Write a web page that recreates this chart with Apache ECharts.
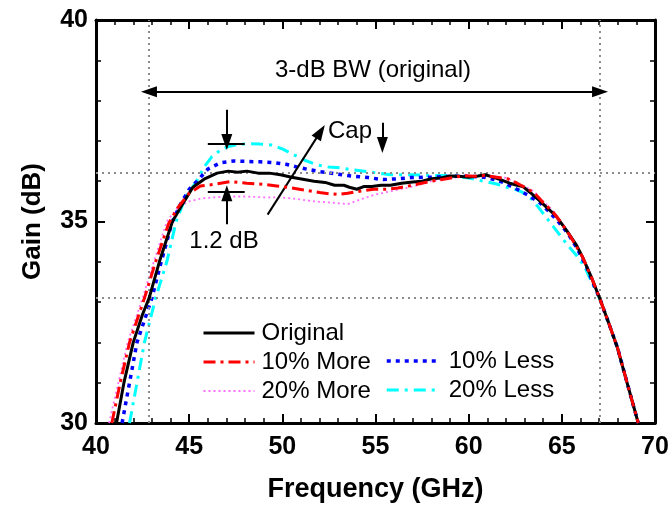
<!DOCTYPE html>
<html>
<head>
<meta charset="utf-8">
<script src="https://cdn.jsdelivr.net/npm/echarts@6/dist/echarts.min.js"></script>
<style>
html,body{margin:0;padding:0;background:#fff;}
#chart{width:672px;height:508px;}
</style>
</head>
<body>
<div id="chart"></div>
<script>
// ---- Data ----
var xTicks = [40, 45, 50, 55, 60, 65, 70];
var yTicks = [30, 35, 40];

var freqOriginal = [41.1,41.5,42.0,42.5,42.85,43.4,44.1,44.6,45.2,45.8,46.5,47.1,47.6,48.1,48.7,49.3,49.9,50.5,51.1,51.7,52.3,52.8,53.3,53.6,54.0,54.4,54.8,55.3,55.8,56.4,57.0,57.5,58.0,58.5,59.0,59.5,60.0,60.5,60.9,61.3,61.7,62.2,62.6,62.9,63.3,63.8,64.3,64.7,65.3,65.8,66.1,66.6,67.05,67.5,67.96,68.5,69.1];
var gainOriginal = [30.0,31.0,32.0,32.7,33.1,34.0,35.0,35.4,35.85,36.05,36.2,36.25,36.22,36.25,36.2,36.2,36.16,36.1,36.05,36.0,35.97,35.9,35.9,35.85,35.8,35.87,35.87,35.9,35.9,35.95,35.98,36.0,36.06,36.08,36.13,36.12,36.1,36.13,36.16,36.1,36.04,35.95,35.9,35.87,35.72,35.52,35.3,35.13,34.75,34.4,34.13,33.6,33.07,32.5,31.9,31.0,30.0];

var freqMore10 = [40.85,41.3,41.8,42.6,43.2,43.9,44.4,45.0,45.6,46.3,47.2,48.1,49.0,49.7,50.4,51.2,52.0,52.5,53.0,53.5,54.0,54.9,55.5,56.2,57.0,58.0,58.8,59.7,60.3,60.8,61.5,62.1,62.6,63.0,63.5,64.0,64.5,65.0,65.5,66.1,66.6,67.05,67.5,68.0,68.5,69.1];
var gainMore10 = [30.0,31.0,32.0,33.1,34.0,34.95,35.35,35.7,35.88,35.92,35.99,35.95,35.92,35.88,35.84,35.78,35.72,35.69,35.67,35.7,35.74,35.8,35.8,35.83,35.9,36.0,36.06,36.14,36.12,36.14,36.1,36.06,35.95,35.85,35.72,35.47,35.25,34.95,34.6,34.13,33.6,33.07,32.5,31.85,31.0,30.0];

var freqMore20 = [40.7,41.2,41.7,42.5,43.1,43.8,44.4,45.0,45.6,46.3,47.2,48.1,49.0,49.9,50.8,51.7,52.6,53.5,54.2,55.0,55.8,56.5,57.3,58.0,59.0,60.0,61.0,62.0,62.8,63.5,64.0,64.5,65.0,65.5,66.1,66.6,67.05,67.5,68.0,68.5,69.1];
var gainMore20 = [30.0,31.0,32.0,33.1,34.0,35.0,35.35,35.5,35.57,35.6,35.62,35.62,35.6,35.6,35.56,35.5,35.47,35.43,35.55,35.67,35.75,35.82,35.9,36.0,36.08,36.12,36.14,36.08,35.92,35.75,35.5,35.28,34.97,34.62,34.15,33.62,33.08,32.5,31.85,31.0,30.0];

var freqLess10 = [41.4,41.8,42.2,43.0,43.5,44.1,44.5,45.0,45.5,46.0,46.7,47.4,48.1,48.8,49.5,50.2,50.8,51.4,52.0,52.6,53.5,54.6,55.4,56.2,56.9,58.1,59.0,60.0,60.8,61.4,61.9,62.6,63.2,63.8,64.3,64.8,65.3,65.8,66.3,66.7,67.05,67.5,68.0,68.5,69.1];
var gainLess10 = [30.0,31.0,32.0,33.1,34.0,35.0,35.4,35.8,36.04,36.3,36.46,36.5,36.49,36.48,36.46,36.42,36.35,36.29,36.24,36.2,36.14,36.09,36.04,36.06,36.09,36.1,36.12,36.12,36.1,36.04,35.96,35.8,35.65,35.47,35.25,35.0,34.72,34.35,33.9,33.45,33.07,32.5,31.85,31.0,30.0];

var freqLess20 = [41.8,42.2,42.6,43.2,43.8,44.3,44.8,45.4,45.8,46.2,46.7,47.1,47.6,48.1,48.8,49.4,50.0,50.6,51.2,51.9,52.5,53.1,53.8,54.5,55.2,55.8,57.0,58.0,59.0,60.0,60.8,61.5,62.1,62.6,62.9,63.4,63.8,64.5,65.3,65.8,66.2,66.6,67.05,67.5,68.0,68.5,69.1];
var gainLess20 = [30.0,31.0,32.0,33.1,34.0,35.0,35.6,36.0,36.35,36.6,36.78,36.86,36.91,36.93,36.92,36.9,36.8,36.66,36.52,36.4,36.35,36.33,36.28,36.24,36.2,36.16,36.16,36.14,36.14,36.08,36.0,35.93,35.84,35.78,35.72,35.55,35.32,34.9,34.42,34.15,33.9,33.5,33.07,32.5,31.85,31.0,30.0];

// 3-dB guide lines (dotted)
var bwFreqs = [42.84, 67.05];
var bwGains = [36.2, 33.1];

// annotation arrows (data coordinates)
var bwArrowGain = 38.22;
var peakMarkFreq = 47.02;
var peakTopGain = 36.93;
var peakBottomGain = 35.74;
var peakLineFreqs = [46.0, 47.98];
var topArrowStartGain = 37.77;
var bottomArrowStartGain = 34.93;
var capArrowFrom = [49.21, 35.17];
var capArrowTo = [52.05, 37.23];
var capSmallArrowFreq = 55.37;
var capSmallArrowGains = [37.45, 36.9];

function pairs(f, g){ return f.map(function(v,i){ return [v, g[i]]; }); }

var FONT = '"Liberation Sans", Arial, sans-serif';
var ANN_FONT = '24px "Liberation Sans", Arial, sans-serif';

var chart = echarts.init(document.getElementById('chart'), null, {renderer:'canvas'});

var dotStyle = {color:'#8c8c8c', width:2, type:[2,4]};
var arrowLine = {color:'#000', width:2, type:'solid'};

var guideLines = [];
bwFreqs.forEach(function(f){
  guideLines.push([{coord:[f,30], symbol:'none', lineStyle:dotStyle},{coord:[f,40], symbol:'none'}]);
});
bwGains.forEach(function(g){
  guideLines.push([{coord:[40,g], symbol:'none', lineStyle:dotStyle},{coord:[70,g], symbol:'none'}]);
});
var arrows = [
  [{coord:[bwFreqs[0], bwArrowGain], symbol:'triangle', lineStyle:arrowLine},{coord:[bwFreqs[1], bwArrowGain], symbol:'triangle'}],
  [{coord:[peakLineFreqs[0], peakTopGain], symbol:'none', lineStyle:arrowLine},{coord:[peakLineFreqs[1], peakTopGain], symbol:'none'}],
  [{coord:[peakLineFreqs[0], peakBottomGain], symbol:'none', lineStyle:arrowLine},{coord:[peakLineFreqs[1], peakBottomGain], symbol:'none'}],
  [{coord:[peakMarkFreq, topArrowStartGain], symbol:'none', lineStyle:arrowLine},{coord:[peakMarkFreq, peakTopGain+0.04], symbol:'triangle'}],
  [{coord:[peakMarkFreq, bottomArrowStartGain], symbol:'none', lineStyle:arrowLine},{coord:[peakMarkFreq, peakBottomGain-0.04], symbol:'triangle'}],
  [{coord:capArrowFrom, symbol:'none', lineStyle:arrowLine},{coord:capArrowTo, symbol:'triangle'}],
  [{coord:[capSmallArrowFreq, capSmallArrowGains[0]], symbol:'none', lineStyle:arrowLine},{coord:[capSmallArrowFreq, capSmallArrowGains[1]], symbol:'triangle'}]
];

var axisCommon = {
  type:'value', min:40, max:70, interval:5,
  axisLine:{show:true, onZero:false, lineStyle:{color:'#000', width:3}},
  axisTick:{show:true, inside:true, length:9, lineStyle:{color:'#000', width:2}},
  minorTick:{show:true, splitNumber:5, length:5, lineStyle:{color:'#000', width:1.5}},
  splitLine:{show:false}, minorSplitLine:{show:false}
};
var yCommon = {
  type:'value', min:30, max:40, interval:5,
  axisLine:{show:true, onZero:false, lineStyle:{color:'#000', width:3}},
  axisTick:{show:true, inside:true, length:9, lineStyle:{color:'#000', width:2}},
  minorTick:{show:true, splitNumber:5, length:5, lineStyle:{color:'#000', width:1.5}},
  splitLine:{show:false}, minorSplitLine:{show:false}
};

var labelFont = {color:'#000', fontFamily:FONT, fontWeight:'bold', fontSize:25};
var legendItemStyle = {color:'transparent', borderWidth:0, opacity:0};

var option = {
  backgroundColor:'#fff',
  animation:false,
  grid:{left:96, right:17, top:20, bottom:84, containLabel:false},
  xAxis:[
    Object.assign({}, axisCommon, {position:'bottom',
      name:'Frequency (GHz)', nameLocation:'middle', nameGap:53,
      nameTextStyle:{color:'#000', fontFamily:FONT, fontWeight:'bold', fontSize:27},
      axisLabel:Object.assign({margin:12}, labelFont)}),
    Object.assign({}, axisCommon, {position:'top', axisLabel:{show:false}})
  ],
  yAxis:[
    Object.assign({}, yCommon, {position:'left',
      name:'Gain (dB)', nameLocation:'middle', nameGap:50, nameRotate:90,
      nameTextStyle:{color:'#000', fontFamily:FONT, fontWeight:'bold', fontSize:26},
      axisLabel:Object.assign({margin:8}, labelFont)}),
    Object.assign({}, yCommon, {position:'right', axisLabel:{show:false}})
  ],
  legend:[
    {orient:'vertical', left:197, top:316, itemWidth:51, itemHeight:20, itemGap:5,
     itemStyle:legendItemStyle,
     data:[
       {name:'Original', lineStyle:{width:3}},
       {name:'10% More', lineStyle:{width:3}},
       {name:'20% More', lineStyle:{width:2}}
     ],
     textStyle:{color:'#000', fontFamily:FONT, fontSize:24, lineHeight:20, padding:[0,0,0,2]}},
    {orient:'vertical', left:380, top:344, itemWidth:50, itemHeight:20, itemGap:5,
     itemStyle:legendItemStyle,
     data:[
       {name:'10% Less', lineStyle:{width:3.5}},
       {name:'20% Less', lineStyle:{width:3}}
     ],
     textStyle:{color:'#000', fontFamily:FONT, fontSize:24, lineHeight:20, padding:[0,0,0,7]}}
  ],
  graphic:[
    {type:'text', style:{text:'3-dB BW (original)', font:ANN_FONT, fill:'#000', x:373, y:70, align:'center', verticalAlign:'middle'}},
    {type:'text', style:{text:'Cap', font:ANN_FONT, fill:'#000', x:328, y:131, align:'left', verticalAlign:'middle'}},
    {type:'text', style:{text:'1.2 dB', font:ANN_FONT, fill:'#000', x:224, y:241, align:'center', verticalAlign:'middle'}}
  ],
  series:[
    {name:'20% More', type:'line', symbol:'none', data:pairs(freqMore20, gainMore20), z:2,
     lineStyle:{color:'#ff70ff', width:1.8, type:[2,3]}, itemStyle:{color:'#ff70ff'}},
    {name:'20% Less', type:'line', symbol:'none', data:pairs(freqLess20, gainLess20), z:3,
     lineStyle:{color:'#00ffff', width:3, type:[12,6,3,6]}, itemStyle:{color:'#00ffff'}},
    {name:'10% Less', type:'line', symbol:'none', data:pairs(freqLess10, gainLess10), z:4,
     lineStyle:{color:'#0000ff', width:3.5, type:[4,5]}, itemStyle:{color:'#0000ff'}},
    {name:'Original', type:'line', symbol:'none', data:pairs(freqOriginal, gainOriginal), z:5,
     lineStyle:{color:'#000', width:3, type:'solid'}, itemStyle:{color:'#000'}},
    {name:'10% More', type:'line', symbol:'none', data:pairs(freqMore10, gainMore10), z:6,
     lineStyle:{color:'#ff0000', width:3, type:[12,5,3,5]}, itemStyle:{color:'#ff0000'}},
    {name:'guides', type:'line', data:[], z:1, silent:true,
     markLine:{silent:true, animation:false, symbolSize:[11,16], label:{show:false}, emphasis:{disabled:true},
       lineStyle:dotStyle, data:guideLines}},
    {name:'arrows', type:'line', data:[], z:7, silent:true,
     markLine:{silent:true, animation:false, symbolSize:[11,16], label:{show:false}, emphasis:{disabled:true},
       lineStyle:arrowLine, data:arrows}}
  ]
};
chart.setOption(option);
</script>
</body>
</html>
